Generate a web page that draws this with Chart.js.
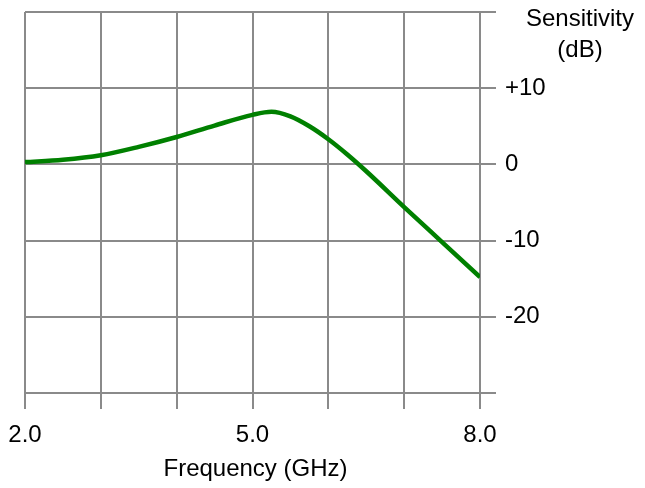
<!DOCTYPE html>
<html>
<head>
<meta charset="utf-8">
<script src="https://cdn.jsdelivr.net/npm/chart.js@4/dist/chart.umd.min.js"></script>
<style>
    html, body { margin: 0; padding: 0; background: #fff; }
    #wrap { width: 645px; height: 488px; position: relative; }
</style>
</head>
<body>
<div id="wrap"><canvas id="grafica"></canvas></div>
<script>
// frequency (GHz) and sensitivity (dB)
const freqGHz = [2.0, 2.5, 3.0, 3.5, 4.0, 4.5, 5.0, 5.25, 5.5, 5.75, 6.0, 6.25, 6.5, 7.0, 7.5, 8.0];
const sensDB  = [0.3, 0.6, 1.2, 2.3, 3.6, 5.1, 6.5, 6.9, 6.3, 5.0, 3.3, 1.3, -0.9, -5.6, -10.2, -14.8];

const xTicks = [2, 3, 4, 5, 6, 7, 8];
const xLabels = { 2: "2.0", 5: "5.0", 8: "8.0" };
const yLabels = { 10: "+10", 0: "0", "-10": "-10", "-20": "-20" };

const yTitle = ["Sensitivity", "(dB)"];
const xTitle = "Frequency (GHz)";

const FONT = "'Liberation Sans', Arial, sans-serif";
const GRID = "#8a8a8a";

// titles drawn on the canvas
const titulos = {
    id: "titulos",
    afterDraw(chart) {
        const ctx = chart.ctx;
        const area = chart.chartArea;
        ctx.save();
        ctx.fillStyle = "#000";
        ctx.font = "24px " + FONT;
        ctx.textAlign = "center";
        ctx.textBaseline = "middle";
        ctx.fillText(yTitle[0], 580, 19);
        ctx.fillText(yTitle[1], 580, 50);
        ctx.fillText(xTitle, (area.left + area.right) / 2 + 3, 469);
        ctx.restore();
    }
};

const puntos = freqGHz.map((f, i) => ({ x: f, y: sensDB[i] }));

new Chart(document.getElementById("grafica"), {
    type: "line",
    data: {
        datasets: [{
            data: puntos,
            borderColor: "#008000",
            borderWidth: 4.5,
            pointRadius: 0,
            cubicInterpolationMode: "monotone",
            fill: false
        }]
    },
    options: {
        responsive: true,
        maintainAspectRatio: false,
        animation: false,
        layout: { padding: { left: 25, top: 12, right: 0, bottom: 0 } },
        plugins: {
            legend: { display: false },
            tooltip: { enabled: false }
        },
        scales: {
            x: {
                type: "linear",
                min: 2,
                max: 8,
                afterBuildTicks: s => { s.ticks = xTicks.map(v => ({ value: v })); },
                afterFit: s => {
                    s.height = 95;
                    s.paddingLeft = 0;
                    s.paddingRight = 0;
                },
                border: { display: false },
                grid: { color: GRID, lineWidth: 2, tickLength: 16 },
                ticks: {
                    autoSkip: false,
                    maxRotation: 0,
                    padding: 12,
                    color: "#000",
                    font: { family: FONT, size: 24 },
                    callback: v => xLabels[v] || ""
                }
            },
            y: {
                position: "right",
                min: -30,
                max: 20,
                afterFit: s => {
                    s.width = 165;
                    s.paddingTop = 0;
                    s.paddingBottom = 0;
                },
                border: { display: false },
                grid: { color: GRID, lineWidth: 2, tickLength: 16 },
                ticks: {
                    stepSize: 10,
                    padding: 9,
                    color: "#000",
                    font: { family: FONT, size: 24 },
                    callback: v => (yLabels[v] !== undefined ? yLabels[v] : "")
                }
            }
        }
    },
    plugins: [titulos]
});
</script>
</body>
</html>
